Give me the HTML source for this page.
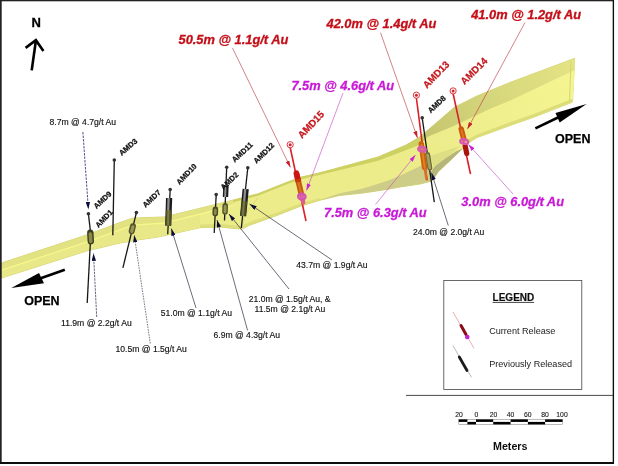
<!DOCTYPE html>
<html><head><meta charset="utf-8"><title>Drill plan</title>
<style>
html,body{margin:0;padding:0;background:#fff;}
body{width:618px;height:466px;overflow:hidden;}
svg{display:block;font-family:"Liberation Sans",Arial,sans-serif;}
.lbl{font-size:8.6px;fill:#0c0c0c;stroke:#0c0c0c;stroke-width:.12px;}
.red{font-size:12.85px;font-weight:bold;font-style:italic;fill:#c40c16;stroke:#c40c16;stroke-width:.3px;}
.mag{font-size:12.85px;font-weight:bold;font-style:italic;fill:#c81ad6;stroke:#c81ad6;stroke-width:.3px;}
.hb{font-size:7.6px;font-weight:bold;fill:#111;stroke:#111;stroke-width:.25px;}
.hr{font-size:9.8px;font-weight:bold;fill:#c4161c;stroke:#c4161c;stroke-width:.25px;}
.open{font-size:12.5px;font-weight:bold;fill:#000;stroke:#000;stroke-width:.25px;}
.sc{font-size:6.8px;fill:#111;text-anchor:middle;stroke:#111;stroke-width:.1px;}
.lg{font-size:9.1px;fill:#222;}
</style></head><body>
<svg width="618" height="466" viewBox="0 0 618 466">
<defs>
<filter id="soft" x="-2%" y="-2%" width="104%" height="104%"><feGaussianBlur stdDeviation="0.4"/></filter>
<linearGradient id="cylk" x1="0" x2="1" y1="0" y2="0"><stop offset="0" stop-color="#1a1a1a"/><stop offset=".5" stop-color="#6e6e6e"/><stop offset="1" stop-color="#1a1a1a"/></linearGradient>
<linearGradient id="cylo" x1="0" x2="1" y1="0" y2="0"><stop offset="0" stop-color="#4a4a22"/><stop offset=".5" stop-color="#9a9a58"/><stop offset="1" stop-color="#4a4a22"/></linearGradient>
<marker id="ar" viewBox="0 0 10 6" refX="10" refY="3" markerWidth="7" markerHeight="4.2" orient="auto" markerUnits="userSpaceOnUse"><path d="M0,0 L10,3 L0,6 z" fill="#c8202a"/></marker>
<marker id="am" viewBox="0 0 10 6" refX="10" refY="3" markerWidth="7" markerHeight="4.6" orient="auto" markerUnits="userSpaceOnUse"><path d="M0,0 L10,3 L0,6 z" fill="#d020d8"/></marker>
<marker id="an" viewBox="0 0 10 6" refX="10" refY="3" markerWidth="7.5" markerHeight="4.4" orient="auto" markerUnits="userSpaceOnUse"><path d="M0,0 L10,3 L0,6 z" fill="#10103c"/></marker>
<linearGradient id="uf" gradientUnits="userSpaceOnUse" x1="425" y1="130" x2="575" y2="64"><stop offset="0" stop-color="#c6c670"/><stop offset=".45" stop-color="#d6d67c"/><stop offset="1" stop-color="#e4e484"/></linearGradient>
<linearGradient id="lf" gradientUnits="userSpaceOnUse" x1="440" y1="150" x2="575" y2="90"><stop offset="0" stop-color="#ecec8c"/><stop offset="1" stop-color="#f4f490"/></linearGradient>
</defs>
<rect width="618" height="466" fill="#fff"/>
<g filter="url(#soft)">
<!-- BAND -->
<g id="band">
<polygon points="1.5,263 88,234.5 120,222.5 133,218 164,217 200,208.3 233,200.1 258,193.7 285,183 300,177.3 320,173 339,167.6 378,157 406,145 419,137.6 438.5,121 454,107.5 477,96 510,82.5 574.5,58.4 572.5,102.1 533,117.5 510,125.5 477,137.6 467.7,143.4 454,157 438.5,171.6 432,181 420,184 400,187 387,189.4 363,193 339,195.6 320,200.2 301,206 278,215 248.5,225.7 241.7,229.2 220,227 200,227.7 166,235.3 155,237.5 139,239.8 120,243 100,247.8 88,250.5 1.5,278" fill="#ecec8a" stroke="#cece6a" stroke-width=".9" stroke-linejoin="round"/>
<!-- left part: upper strip / highlight / lower -->
<polygon points="1.5,263 88,234.5 133,218 164,217 200,208.3 233,200.1 233,204.5 200,213.5 164,222.5 133,224.5 88,241 1.5,269.5" fill="#e2e282"/>
<polygon points="1.5,269.5 88,241 133,224.5 164,222.5 200,213.5 233,204.5 233,206 200,215 164,224 133,226 88,242.5 1.5,271" fill="#f6f68c"/>
<polygon points="1.5,271 88,242.5 133,226 164,224 200,215 200,227.7 166,235.3 155,237.5 139,239.8 120,243 100,247.8 88,250.5 1.5,278" fill="#e8e888"/>
<!-- middle: thin olive top edge -->
<polygon points="233,200.1 258,193.7 285,183 300,177.3 339,167.6 378,157 406,145 419,137.6 428.8,136.6 418,145.5 400,152.6 378,160.8 339,170.3 300,179.4 285,185 258,195.7 233,202.2" fill="#cdd062"/>
<!-- right part: upper face darker -->
<polygon points="419,137.6 438.5,121 454,107.5 477,96 510,82.5 574.5,58.4 575,70 510,100.8 490,109 454,126 428.8,136.6" fill="url(#uf)"/>
<polygon points="428.8,136.6 454,126 490,109 510,100.8 575,70 572.5,102.1 533,117.5 510,125.5 477,137.6 467.7,143.4 454,157 444,150 " fill="url(#lf)"/>
<!-- twist darker region -->
<polygon points="318,200.8 339,193.4 363,188.4 387,181 400,175.8 425.5,163.5 430,170 432,181 420,184 400,187 387,189.4 363,193 339,195.6" fill="#cdcd88"/>
<polygon points="430,156 460,146 452,153 434.5,169.5" fill="#dede84"/>
<polygon points="432,181 438.5,171.6 454,157 463,148.5 456.5,151 445,158.8 434.5,166.8 430.5,172.5" fill="#b6b67c"/>
<!-- bottom darker strip right -->
<polygon points="467.7,143.4 477,137.6 510,125.5 533,117.5 572.5,102.1 572,99 533,114.3 510,122.3 477,134.4 465,141" fill="#dcdc78"/>
<!-- front bottom edge left-mid -->
<polygon points="200,227.7 220,227 241.7,229.2 248.5,225.7 278,215 301,206 320,200.2 320,198 301,203.3 278,212 248.5,222.5 241.7,226 220,224 200,224.5" fill="#dede7c"/>
<polyline points="241.7,229.2 245,214 258,198" fill="none" stroke="#d6d674" stroke-width="0.8"/>
<line x1="571" y1="61" x2="569.5" y2="101" stroke="#d6d672" stroke-width="1"/>
</g>

<!-- frame -->
<rect x="0" y="0" width="614" height="1.3" fill="#222"/>
<rect x="0" y="0" width="1.7" height="464" fill="#222"/>
<rect x="612.7" y="0" width="1.35" height="464" fill="#111"/>
<rect x="0" y="462" width="614" height="2" fill="#111"/>

<!-- North arrow -->
<text x="31.4" y="26.6" style="font-size:13px;font-weight:bold;fill:#000;stroke:#000;stroke-width:.3px">N</text>
<g stroke="#000" stroke-width="2.6" fill="none" stroke-linecap="butt">
<line x1="31.7" y1="70.4" x2="35.9" y2="40.5"/>
<polyline points="25.6,47.9 35.9,40.2 43.4,51"/>
</g>

<!-- OPEN arrows -->
<g fill="#000" stroke="#000">
<line x1="64.8" y1="269.8" x2="40" y2="278.5" stroke-width="2.6"/>
<polygon points="11.3,288 39,272.9 44,283.2" stroke="none"/>
<line x1="535.4" y1="128.4" x2="558" y2="117.5" stroke-width="2.6"/>
<polygon points="586.6,104 555.5,112.9 559.7,122.6" stroke="none"/>
</g>
<text class="open" x="24.2" y="304.5">OPEN</text>
<text class="open" x="555" y="142.6">OPEN</text>

<!-- previous holes (black) -->
<g stroke="#161616" stroke-width="1.3" fill="none">
<line x1="88.4" y1="213.8" x2="91" y2="236"/><line x1="90.5" y1="240" x2="87.2" y2="303"/>
<line x1="114.3" y1="160" x2="112.8" y2="235.2"/>
<line x1="136.4" y1="212.6" x2="122.9" y2="267.8"/>
<line x1="170.2" y1="189.5" x2="167.7" y2="234.3"/>
<line x1="216.2" y1="194.6" x2="214.2" y2="233"/>
<line x1="226.7" y1="167.2" x2="224.5" y2="220.5"/>
<line x1="247.8" y1="167.7" x2="241.3" y2="228"/>
<line x1="422.2" y1="117.8" x2="434.3" y2="202.2"/>
</g>
<g fill="#333">
<circle cx="88.4" cy="213.8" r="1.8"/><circle cx="114.3" cy="160" r="1.8"/><circle cx="136.4" cy="212.6" r="1.8"/>
<circle cx="170.2" cy="189.5" r="1.8"/><circle cx="216.2" cy="194.6" r="1.8"/><circle cx="226.7" cy="167.2" r="1.8"/>
<circle cx="247.8" cy="167.7" r="1.8"/><circle cx="422.2" cy="117.8" r="1.8"/>
</g>
<!-- cylinders -->
<g fill="none" stroke-linecap="round">
<line x1="90.3" y1="232.8" x2="90.8" y2="241.3" stroke="#3c3c1c" stroke-width="6.4"/>
<line x1="90.3" y1="234" x2="90.8" y2="241.3" stroke="#8a8a4e" stroke-width="3.6"/>
<line x1="132.9" y1="226.2" x2="131.7" y2="231.3" stroke="#55552a" stroke-width="6"/>
<line x1="132.9" y1="226.8" x2="131.7" y2="231.3" stroke="#97975a" stroke-width="3.2"/>
<line x1="169.1" y1="198" x2="168.2" y2="225.6" stroke="#1e1e1e" stroke-width="6.2" stroke-linecap="butt"/>
<line x1="168.6" y1="198" x2="168.2" y2="210" stroke="#909090" stroke-width="2.2" stroke-linecap="butt"/>
<line x1="168.7" y1="210" x2="168.2" y2="225.6" stroke="#505028" stroke-width="5.4" stroke-linecap="butt"/>
<line x1="168.4" y1="210" x2="168" y2="225.6" stroke="#7c7c44" stroke-width="2" stroke-linecap="butt"/>
<line x1="215.4" y1="209.3" x2="215.2" y2="213.5" stroke="#4a4a24" stroke-width="5.6"/>
<line x1="215.4" y1="209.8" x2="215.2" y2="213.5" stroke="#8a8a50" stroke-width="2.8"/>
<line x1="226" y1="185" x2="225.5" y2="197" stroke="#1e1e1e" stroke-width="5.4" stroke-linecap="butt"/>
<line x1="225.6" y1="185" x2="225.1" y2="197" stroke="#909090" stroke-width="1.9" stroke-linecap="butt"/>
<line x1="225.2" y1="205.8" x2="225" y2="211.8" stroke="#55552a" stroke-width="5.6"/>
<line x1="225.2" y1="206.3" x2="225" y2="211.8" stroke="#96965a" stroke-width="2.8"/>
<line x1="245.7" y1="189" x2="243.1" y2="216" stroke="#1e1e1e" stroke-width="6.2" stroke-linecap="butt"/>
<line x1="245.2" y1="189" x2="244.2" y2="201" stroke="#909090" stroke-width="2.2" stroke-linecap="butt"/>
<line x1="244.5" y1="201" x2="243.1" y2="216" stroke="#4c4c28" stroke-width="5.4" stroke-linecap="butt"/>
<line x1="244.2" y1="201" x2="242.8" y2="216" stroke="#787844" stroke-width="2" stroke-linecap="butt"/>
<line x1="427.6" y1="154.5" x2="429.8" y2="168" stroke="#6a6a3c" stroke-width="5"/>
<line x1="427.6" y1="155" x2="429.8" y2="168" stroke="#a2a264" stroke-width="2.6"/>
</g>

<!-- current holes (red) -->
<g stroke="#d8202a" stroke-width="1.6" fill="none">
<line x1="290.2" y1="147.5" x2="306" y2="221"/>
<line x1="416.4" y1="98" x2="427" y2="180.3"/>
<line x1="453.1" y1="93.5" x2="470.5" y2="174"/>
</g>
<g fill="#fff" stroke="#d8202a" stroke-width="0.9">
<circle cx="290.2" cy="144.7" r="3.1"/><circle cx="416.4" cy="95.2" r="3.1"/><circle cx="453.1" cy="90.9" r="3.1"/>
</g>
<g fill="#d8202a"><circle cx="290.2" cy="144.7" r="1.5"/><circle cx="416.4" cy="95.2" r="1.5"/><circle cx="453.1" cy="90.9" r="1.5"/></g>
<g fill="none" stroke-linecap="round">
<!-- AMD15 -->
<line x1="296.6" y1="174" x2="301.3" y2="194" stroke="#c4580e" stroke-width="5.6"/>
<line x1="297.4" y1="178" x2="301.3" y2="194" stroke="#d87820" stroke-width="2"/>
<line x1="296.4" y1="173.2" x2="297.8" y2="179" stroke="#cc1418" stroke-width="5.6"/><line x1="297.8" y1="179" x2="298.5" y2="182" stroke="#c8380e" stroke-width="5.6" stroke-linecap="butt"/>
<line x1="302.3" y1="198" x2="303.3" y2="202.5" stroke="#e06088" stroke-width="4.2"/>
<ellipse cx="301.8" cy="196.6" rx="3.9" ry="3.2" transform="rotate(12 301.8 196.6)" fill="#dc60bc" fill-opacity=".8" stroke="#d452b0" stroke-width="2"/>
<!-- AMD13 -->
<line x1="421.3" y1="144" x2="424.6" y2="167.5" stroke="#cc600e" stroke-width="5.4"/>
<line x1="421.5" y1="145" x2="424.6" y2="167.5" stroke="#e08428" stroke-width="1.8"/>
<ellipse cx="422" cy="149.3" rx="3.9" ry="2.4" transform="rotate(8 422 149.3)" fill="#e070c0" fill-opacity=".6" stroke="#d858b4" stroke-width="2.1"/>
<line x1="424.8" y1="168" x2="426.6" y2="179.5" stroke="#d87028" stroke-width="2.6" stroke-linecap="butt"/>
<!-- AMD14 -->
<line x1="461.2" y1="129" x2="463.8" y2="139" stroke="#cc560e" stroke-width="5.4"/>
<line x1="461.4" y1="130" x2="463.8" y2="139" stroke="#e07a24" stroke-width="1.8"/>
<line x1="465.2" y1="146" x2="466.7" y2="153.5" stroke="#a81410" stroke-width="5.2"/>
<ellipse cx="464.2" cy="141.6" rx="4.1" ry="2.3" transform="rotate(10 464.2 141.6)" fill="#e070c0" fill-opacity=".6" stroke="#d858b4" stroke-width="2.1"/>
</g>

<!-- leaders red -->
<g stroke="#bc4048" stroke-width="0.65" fill="none">
<line x1="232.5" y1="48" x2="290.5" y2="167.5" marker-end="url(#ar)"/>
<line x1="380.5" y1="32.6" x2="417.5" y2="138" marker-end="url(#ar)"/>
<line x1="525" y1="22.5" x2="467.4" y2="129" marker-end="url(#ar)"/>
</g>
<g stroke="#c850c8" stroke-width="0.65" fill="none">
<line x1="343" y1="93" x2="306.5" y2="190.5" marker-end="url(#am)"/>
<line x1="375.5" y1="204.5" x2="415.5" y2="155" marker-end="url(#am)"/>
<line x1="513" y1="194" x2="468.5" y2="144.5" marker-end="url(#am)"/>
</g>
<g stroke="#2e2e40" stroke-width="0.7" fill="none">
<line x1="82.9" y1="132.1" x2="88.4" y2="209.2" stroke-dasharray="2.4 1.1" marker-end="url(#an)" stroke="#202070" stroke-width=".8"/>
<line x1="96.7" y1="317" x2="93.5" y2="253.5" stroke-dasharray="2.4 .9" marker-end="url(#an)" stroke="#26264e" stroke-width=".7"/>
<line x1="150.3" y1="343.5" x2="134.2" y2="235" stroke-dasharray="1.6 1" marker-end="url(#an)" stroke="#30304c" stroke-width=".65"/>
<line x1="196" y1="308" x2="171.3" y2="228.5" marker-end="url(#an)"/>
<line x1="247.6" y1="330.5" x2="217" y2="220" marker-end="url(#an)"/>
<line x1="289" y1="289" x2="229" y2="214" marker-end="url(#an)"/>
<line x1="332" y1="260" x2="249.5" y2="204" marker-end="url(#an)"/>
<line x1="448.3" y1="225.5" x2="431.5" y2="172.8" marker-end="url(#an)"/>
</g>

<!-- hole labels -->
<g class="hb">
<text transform="translate(96.4,209.3) rotate(-43)">AMD9</text>
<text transform="translate(98.4,228.3) rotate(-46)">AMD1</text>
<text transform="translate(121.7,156.0) rotate(-41)">AMD3</text>
<text transform="translate(145.5,207.9) rotate(-43)">AMD7</text>
<text transform="translate(179.4,185.3) rotate(-46)">AMD10</text>
<text transform="translate(234.8,162.7) rotate(-43)">AMD11</text>
<text transform="translate(223.6,190.3) rotate(-44)">AMD2</text>
<text transform="translate(256.6,164.0) rotate(-45)">AMD12</text>
<text transform="translate(430.7,113.6) rotate(-43)">AMD8</text>
</g>
<g class="hr">
<text transform="translate(302.0,139.0) rotate(-46.5)">AMD15</text>
<text transform="translate(426.9,88.9) rotate(-46)">AMD13</text>
<text transform="translate(464.6,85.2) rotate(-45)">AMD14</text>
</g>

<!-- big labels -->
<text class="red" x="178.5" y="44">50.5m @ 1.1g/t Au</text>
<text class="red" x="326.5" y="28">42.0m @ 1.4g/t Au</text>
<text class="red" x="471.2" y="19">41.0m @ 1.2g/t Au</text>
<text class="mag" x="291.4" y="89.8">7.5m @ 4.6g/t Au</text>
<text class="mag" x="324" y="217">7.5m @ 6.3g/t Au</text>
<text class="mag" x="461.3" y="205.6">3.0m @ 6.0g/t Au</text>

<!-- small labels -->
<text class="lbl" x="49.5" y="125">8.7m @ 4.7g/t Au</text>
<text class="lbl" x="61" y="325.8">11.9m @ 2.2g/t Au</text>
<text class="lbl" x="115.5" y="352">10.5m @ 1.5g/t Au</text>
<text class="lbl" x="160.7" y="316">51.0m @ 1.1g/t Au</text>
<text class="lbl" x="213.5" y="338">6.9m @ 4.3g/t Au</text>
<text class="lbl" x="248.7" y="302">21.0m @ 1.5g/t Au, &amp;</text>
<text class="lbl" x="254.5" y="312">11.5m @ 2.1g/t Au</text>
<text class="lbl" x="296.3" y="267.5">43.7m @ 1.9g/t Au</text>
<text class="lbl" x="413" y="235">24.0m @ 2.0g/t Au</text>

<!-- legend -->
<rect x="443.8" y="280.5" width="138" height="109" fill="#fff" stroke="#444" stroke-width="0.8"/>
<text x="492.6" y="300.9" style="font-size:10px;font-weight:bold;fill:#111;stroke:#111;stroke-width:.2px">LEGEND</text>
<line x1="492.6" y1="302.4" x2="534" y2="302.4" stroke="#111" stroke-width="0.8"/>
<text class="lg" x="489.2" y="333.5">Current Release</text>
<text class="lg" x="489.2" y="366.8">Previously Released</text>
<line x1="453" y1="312" x2="474" y2="348.3" stroke="#d89090" stroke-width="0.7"/>
<line x1="461" y1="325.5" x2="466" y2="334.5" stroke="#8a0c18" stroke-width="3" stroke-linecap="round"/>
<circle cx="467.3" cy="337" r="2.3" fill="#c020c8"/>
<line x1="453" y1="345.8" x2="471.5" y2="377.3" stroke="#999" stroke-width="0.7"/>
<line x1="459.3" y1="357" x2="467" y2="370.5" stroke="#1c1c1c" stroke-width="2.8" stroke-linecap="round"/>

<line x1="406" y1="395.4" x2="613" y2="395.4" stroke="#333" stroke-width="0.9"/>

<!-- scalebar -->
<g class="sc">
<text x="459" y="416.7">20</text><text x="476.3" y="416.7">0</text><text x="493.5" y="416.7">20</text><text x="510.6" y="416.7">40</text><text x="527.7" y="416.7">60</text><text x="545" y="416.7">80</text><text x="562" y="416.7">100</text>
</g>
<rect x="458.8" y="419.4" width="103.7" height="5" fill="#fff" stroke="#777" stroke-width="0.5"/>
<g fill="#000">
<rect x="458.8" y="419.4" width="8.6" height="2.5"/><rect x="467.4" y="421.9" width="8.6" height="2.5"/>
<rect x="476" y="419.4" width="17.2" height="2.5"/><rect x="493.2" y="421.9" width="17.4" height="2.5"/>
<rect x="510.6" y="419.4" width="17.3" height="2.5"/><rect x="527.9" y="421.9" width="17.2" height="2.5"/>
<rect x="545.1" y="419.4" width="17.4" height="2.5"/>
</g>
<text x="493" y="449.6" style="font-size:10.7px;font-weight:bold;fill:#111">Meters</text>
</g>
</svg>
</body></html>
